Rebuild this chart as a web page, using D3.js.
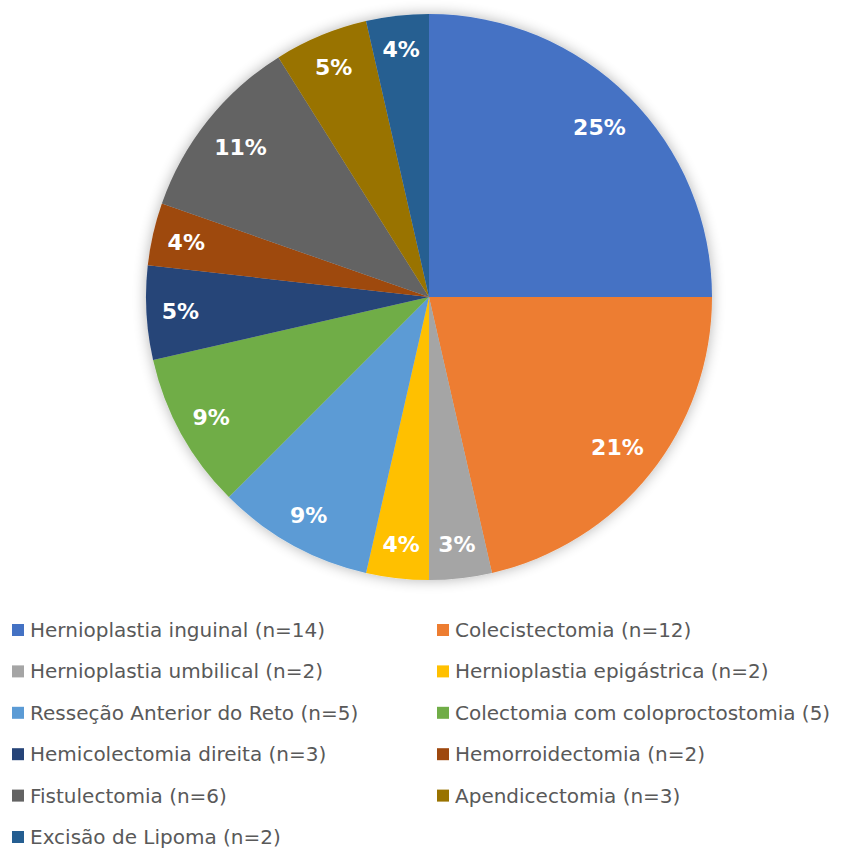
<!DOCTYPE html>
<html>
<head>
<meta charset="utf-8">
<script src="https://cdn.jsdelivr.net/npm/d3@7"></script>
<style>
  body { margin: 0; background: #fff; }
  svg { display: block; }
</style>
</head>
<body>
<div id="grafica"></div>
<script>
// Procedimentos e contagens
const categorias = [
  "Hernioplastia inguinal (n=14)",
  "Colecistectomia (n=12)",
  "Hernioplastia umbilical (n=2)",
  "Hernioplastia epigástrica (n=2)",
  "Resseção Anterior do Reto (n=5)",
  "Colectomia com coloproctostomia (5)",
  "Hemicolectomia direita (n=3)",
  "Hemorroidectomia (n=2)",
  "Fistulectomia (n=6)",
  "Apendicectomia (n=3)",
  "Excisão de Lipoma (n=2)"
]
const valores = [14, 12, 2, 2, 5, 5, 3, 2, 6, 3, 2]
const rotulos = ["25%", "21%", "3%", "4%", "9%", "9%", "5%", "4%", "11%", "5%", "4%"]
const cores = ["#4472C4", "#ED7D31", "#A5A5A5", "#FFC000", "#5B9BD5", "#70AD47",
               "#264478", "#9E480E", "#636363", "#997300", "#255E91"]

const width = 857
const height = 850
const cx = 429, cy = 297, radius = 283

const svg = d3.select('#grafica')
  .append("svg")
  .attr("width", width)
  .attr("height", height)

// sombra suave em volta da pizza
const defs = svg.append("defs")
const filtro = defs.append("filter")
  .attr("id", "sombra")
  .attr("x", "-20%").attr("y", "-20%")
  .attr("width", "140%").attr("height", "140%")
filtro.append("feGaussianBlur")
  .attr("in", "SourceAlpha")
  .attr("stdDeviation", 7)
filtro.append("feComponentTransfer")
  .append("feFuncA").attr("type", "linear").attr("slope", 0.3)
const merge = filtro.append("feMerge")
merge.append("feMergeNode")
merge.append("feMergeNode").attr("in", "SourceGraphic")

const pie = d3.pie().sort(null).value(d => d)
const arcs = pie(valores)
const arc = d3.arc().innerRadius(0).outerRadius(radius)

const g = svg.append("g")
  .attr("transform", "translate(" + cx + "," + cy + ")")

g.append("g")
  .attr("filter", "url(#sombra)")
  .selectAll("path")
  .data(arcs)
  .enter()
  .append("path")
  .attr("d", arc)
  .attr("fill", (d, i) => cores[i])

// rótulos de percentagem
g.selectAll("text.rotulo")
  .data(arcs)
  .enter()
  .append("text")
  .attr("class", "rotulo")
  .attr("transform", d => {
    let r = (d.endAngle - d.startAngle) < 0.6 ? 249 : 241
    let a = (d.startAngle + d.endAngle) / 2
    return "translate(" + (r * Math.sin(a)) + "," + (-r * Math.cos(a)) + ")"
  })
  .attr("text-anchor", "middle")
  .attr("dy", "0.36em")
  .attr("fill", "#fff")
  .attr("font-family", "'DejaVu Sans', sans-serif")
  .attr("font-weight", "bold")
  .attr("font-size", 22)
  .text((d, i) => rotulos[i])

// legenda em duas colunas
const legenda = svg.append("g")
const colX = [12, 437]
const linhaY0 = 630, passo = 41.4

legenda.selectAll("g")
  .data(categorias)
  .enter()
  .append("g")
  .attr("transform", (d, i) => "translate(" + colX[i % 2] + "," + (linhaY0 + Math.floor(i / 2) * passo) + ")")
  .each(function (d, i) {
    const item = d3.select(this)
    item.append("rect")
      .attr("x", 0).attr("y", -6)
      .attr("width", 12).attr("height", 12)
      .attr("fill", cores[i])
    item.append("text")
      .attr("x", 18)
      .attr("dy", "0.35em")
      .attr("fill", "#595959")
      .attr("font-family", "'DejaVu Sans', sans-serif")
      .attr("font-size", 20)
      .text(d)
  })
</script>
</body>
</html>
